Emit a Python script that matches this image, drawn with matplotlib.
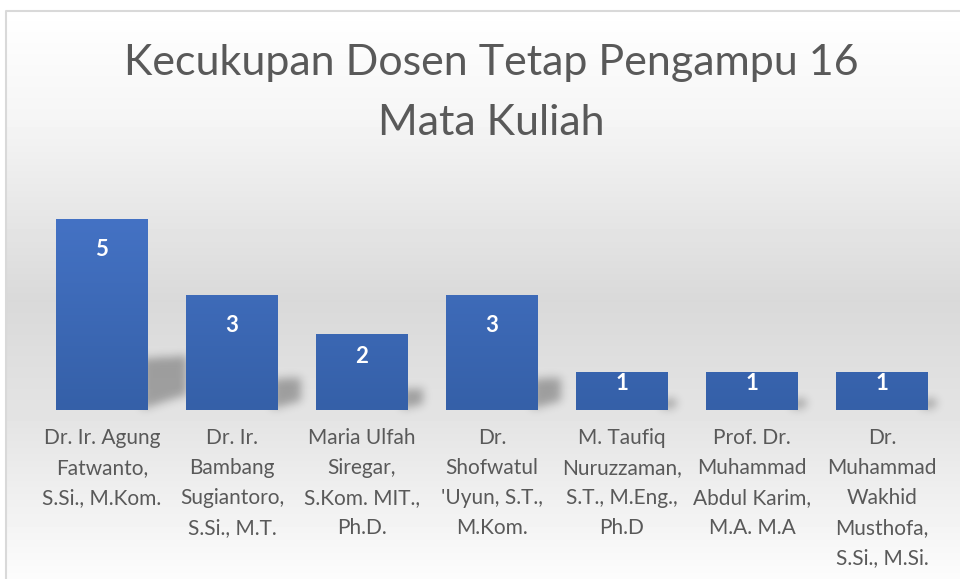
import numpy as np
import matplotlib
matplotlib.use("Agg")
import matplotlib.pyplot as plt
from matplotlib.patches import Rectangle
from matplotlib.path import Path
from matplotlib.colors import LinearSegmentedColormap

names = [
    "Dr. Ir. Agung\nFatwanto,\nS.Si., M.Kom.",
    "Dr. Ir.\nBambang\nSugiantoro,\nS.Si., M.T.",
    "Maria Ulfah\nSiregar,\nS.Kom. MIT.,\nPh.D.",
    "Dr.\nShofwatul\n'Uyun, S.T.,\nM.Kom.",
    "M. Taufiq\nNuruzzaman,\nS.T., M.Eng.,\nPh.D",
    "Prof. Dr.\nMuhammad\nAbdul Karim,\nM.A. M.A",
    "Dr.\nMuhammad\nWakhid\nMusthofa,\nS.Si., M.Si.",
]
values = [5, 3, 2, 3, 1, 1, 1]
title = "Kecukupan Dosen Tetap Pengampu 16\nMata Kuliah"

FONT = "Lato"
TXT = "#595959"
W, H = 960, 579
fig = plt.figure(figsize=(W / 100, H / 100), dpi=100)

# background gradient
bg = fig.add_axes([0, 0, 1, 1], zorder=-10)
bg.set_xlim(0, W); bg.set_ylim(H, 0); bg.axis("off")
ys = np.arange(H)
g = np.interp(ys, [0, 10, 120, 300, 420, 579], [255, 255, 245, 217, 228, 252]) / 255
img = np.repeat(g[:, None], 2, axis=1)
bg.imshow(img, cmap="gray", vmin=0, vmax=1, extent=[0, W, H, 0], aspect="auto")
bg.add_patch(Rectangle((0, 0), 5, H, color="white", zorder=2))
bg.add_patch(Rectangle((0, 0), W, 10, color="white", zorder=2))
bg.plot([5.5, 5.5, W], [H, 10.5, 10.5], color="#d9d9d9", lw=1.5, zorder=3)

ax = fig.add_axes([37 / W, 1 - 410 / H, 910 / W, (410 - 180.8) / H])
ax.set_xlim(-0.5, len(values) - 0.5)
ax.set_ylim(0, 6)
ax.patch.set_alpha(0)
for s in ax.spines.values():
    s.set_visible(False)
ax.set_yticks([])

x = np.arange(len(values))
bw = 92 / 130
bars = ax.bar(x, values, width=bw, color="#3d69b8", zorder=3)

# soft blurred shadows, computed in pixel space from the bars' positions
mask = np.zeros((H, W))
YY, XX = np.mgrid[0:H, 0:W]
pts = np.column_stack([XX.ravel() + 0.5, YY.ravel() + 0.5])
for b in bars:
    (x0, y0), (x1, y1) = ax.transData.transform([(b.get_x(), 0), (b.get_x() + b.get_width(), b.get_height())])
    yb, yt = H - y0, H - y1
    hs = 0.27 * (yb - yt)
    xr = x1
    poly = Path([(xr - 6, yb - 1), (xr - 6, yb - hs), (xr + 0.75 * hs, yb - 1.05 * hs),
                 (xr + 0.75 * hs, yb - 0.3 * hs)])
    mask[poly.contains_points(pts).reshape(H, W)] = 1.0

def blur(a, sigma):
    r = int(3 * sigma)
    k = np.exp(-0.5 * (np.arange(-r, r + 1) / sigma) ** 2)
    k /= k.sum()
    a = np.apply_along_axis(lambda m: np.convolve(m, k, mode="same"), 0, a)
    a = np.apply_along_axis(lambda m: np.convolve(m, k, mode="same"), 1, a)
    return a

mask = blur(mask, 4.5)
shadow = np.zeros((H, W, 4))
shadow[..., 3] = np.clip(mask * 0.3, 0, 1)
bg.imshow(shadow, extent=[0, W, H, 0], aspect="auto", zorder=1, interpolation="nearest")

# bar gradient
grad = np.linspace(0, 1, 256)[:, None]
cm = LinearSegmentedColormap.from_list("b", ["#3560a8", "#4472c4"])
for b in bars:
    im = ax.imshow(grad, cmap=cm, extent=[b.get_x(), b.get_x() + b.get_width(), 0, 5],
                   origin="lower", aspect="auto", zorder=4)
    im.set_clip_path(b)

for xi, v in zip(x, values):
    yl = max(v - 0.8, v * 0.7)
    ax.text(xi, yl, str(v), ha="center", va="center", color="white",
            fontsize=16, fontweight="bold", family=FONT, zorder=5)

ax.set_xticks(x)
ax.set_xticklabels(names, fontsize=15, color=TXT, family=FONT, linespacing=1.62, va="top")
ax.tick_params(axis="x", length=0, pad=13)

fig.text(491 / W, 1 - 93 / H, title, ha="center", va="center", fontsize=31,
         color=TXT, family=FONT, linespacing=1.7)

fig.savefig("out.png", dpi=100)
